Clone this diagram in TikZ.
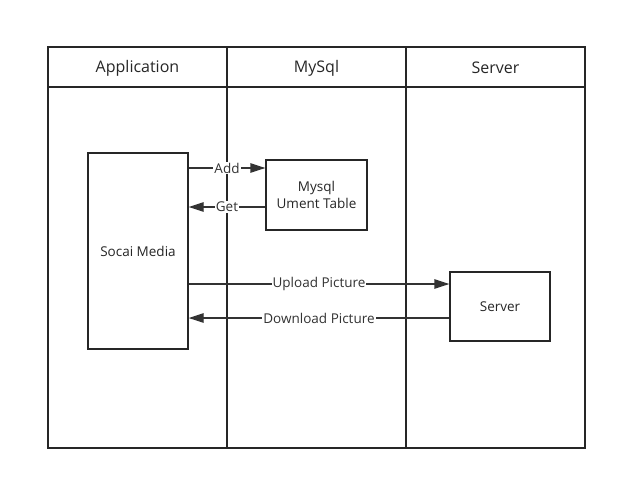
\documentclass[tikz,border=0pt]{standalone}
\usepackage{fontspec}
\setmainfont{Open Sans}
\usetikzlibrary{arrows.meta}
\begin{document}
\begin{tikzpicture}[x=1pt,y=-1pt,
  frame/.style={draw=black!85,line width=1.5pt},
  box/.style={draw=black!85,line width=1.3pt,fill=white,inner sep=0pt},
  conn/.style={draw=black!80,line width=1.3pt,-{Triangle[length=15pt,width=9.5pt]}},
  lbl/.style={fill=white,inner sep=1pt,font=\fontsize{13.5}{15}\selectfont,text=black!80},
  txt/.style={font=\fontsize{13.5}{17}\selectfont,text=black!85},
  hdr/.style={font=\fontsize{16}{18}\selectfont,text=black!85}]
\useasboundingbox (0,0) rectangle (617,481);
\draw[frame] (48,47) rectangle (585,448);
\draw[frame] (48,87) -- (585,87);
\draw[frame] (227,47) -- (227,448);
\draw[frame] (406,47) -- (406,448);
\node[hdr] (h1) at (137.5,68) {Application};
\node[hdr] (h2) at (316.5,68) {MySql};
\node[hdr] (h3) at (495.5,68) {Server};
\node[box,txt,minimum width=100pt,minimum height=196pt] (soc) at (138,251) {Socai Media};
\node[box,txt,minimum width=101pt,minimum height=70pt,align=center] (my) at (316.5,195) {Mysql\\Ument Table};
\node[box,txt,minimum width=100pt,minimum height=69pt] (srv) at (500,306.5) {Server};
\draw[conn] (soc.east |- 0,168) -- node[lbl] {Add} (my.west |- 0,168);
\draw[conn] (my.west |- 0,207) -- node[lbl] {Get} (soc.east |- 0,207);
\draw[conn] (soc.east |- 0,284) -- node[lbl] {Upload Picture} (srv.west |- 0,284);
\draw[conn] (srv.west |- 0,318) -- node[lbl] {Download Picture} (soc.east |- 0,318);
\end{tikzpicture}
\end{document}
